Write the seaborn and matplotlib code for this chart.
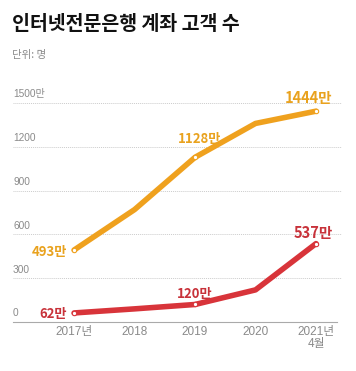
import numpy as np
import pandas as pd
import seaborn as sns
import matplotlib.pyplot as plt

years = ["2017년", "2018", "2019", "2020", "2021년\n4월"]
customers = [493, 770, 1128, 1360, 1444]
accounts = [62, 90, 120, 220, 537]
labeled = [0, 2, 4]
yticks = [0, 300, 600, 900, 1200, 1500]
ytick_labels = ["0", "300", "600", "900", "1200", "1500만"]

ORANGE = "#EFA11E"
RED = "#D8343A"
GRAY = "#8a8a8a"
NUMFONT = ['Liberation Sans', 'Noto Sans CJK KR']

sns.set_style("white")
plt.rcParams['font.family'] = ['Noto Sans CJK KR', 'DejaVu Sans']

df = pd.DataFrame({
    "pos": list(range(len(years))) * 2,
    "value": customers + accounts,
    "series": ["customers"] * len(years) + ["accounts"] * len(years),
})

fig = plt.figure(figsize=(3.56, 3.71), dpi=100)
ax = fig.add_axes([13 / 356, 49 / 371, 329 / 356, 219 / 371])

sns.lineplot(data=df, x="pos", y="value", hue="series",
             palette={"customers": ORANGE, "accounts": RED},
             linewidth=4, legend=False, ax=ax, solid_capstyle="round")

for vals, col in [(customers, ORANGE), (accounts, RED)]:
    ax.scatter([labeled], [[vals[i] for i in labeled]], s=10, facecolor="white",
               edgecolor=col, linewidth=0.8, zorder=5)

ax.set_xlim(-1.01, 4.43)
ax.set_ylim(0, 1500)
ax.set_xticks(range(len(years)))
ax.set_xticklabels(years, color=GRAY, fontsize=8.5, linespacing=0.95,
                   family=NUMFONT)
ax.tick_params(axis="x", direction="in", length=4, color="#aaaaaa", pad=3)
ax.set_yticks(yticks)
ax.set_yticklabels([])
ax.tick_params(axis="y", length=0)
ax.set_xlabel("")
ax.set_ylabel("")
ax.grid(axis="y", color="#cccccc", linestyle=(0, (1, 1)), linewidth=0.7)
for s in ["top", "right", "left"]:
    ax.spines[s].set_visible(False)
ax.spines["bottom"].set_color("#aaaaaa")
ax.spines["bottom"].set_bounds(-1.01, 4.35)

trans = ax.get_yaxis_transform()
for v, lab in zip(yticks, ytick_labels):
    ax.text(0, v + 25, lab, transform=trans, ha="left", va="bottom",
            color=GRAY, fontsize=7.3, family=NUMFONT)

bold = dict(fontweight="bold", fontsize=9.5)
ax.text(-0.12, customers[0] - 15, "493만", ha="right", va="center", color="#E9A21E", **bold)
ax.text(-0.12, accounts[0] - 5, "62만", ha="right", va="center", color="#C8323A", **bold)
ax.text(2.08, customers[2] + 125, "1128만", ha="center", va="center", color="#E9A21E", **bold)
ax.text(2.0, accounts[2] + 75, "120만", ha="center", va="center", color="#C8323A", **bold)
ax.text(3.87, customers[4] + 90, "1444만", ha="center", va="center", color="#E9A21E",
        fontweight="bold", fontsize=10.5)
ax.text(3.95, accounts[4] + 75, "537만", ha="center", va="center", color="#C8323A",
        fontweight="bold", fontsize=10.5)

fig.text(12 / 356, 1 - 25 / 371, "인터넷전문은행 계좌 고객 수", ha="left", va="center",
         fontsize=14, fontweight="black", color="#111111")
fig.text(12 / 356, 1 - 55 / 371, "단위: 명", ha="left", va="center",
         fontsize=7.5, color=GRAY)

fig.savefig("out.png", dpi=100, facecolor="white")
